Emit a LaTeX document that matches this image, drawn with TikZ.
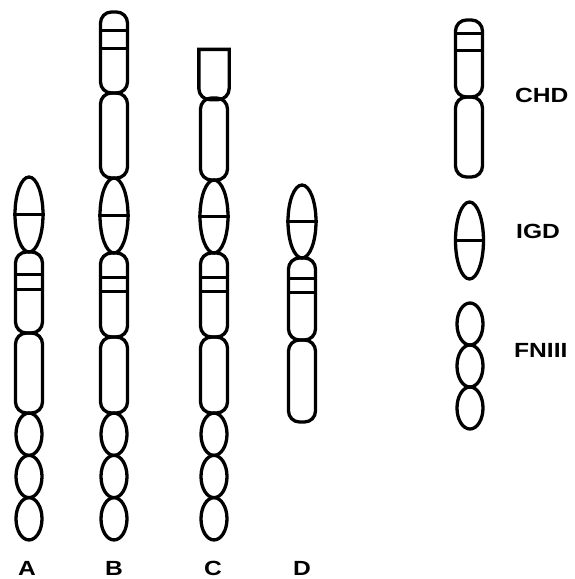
\documentclass[tikz,border=0pt]{standalone}
\usepackage{fontspec}
\newfontfamily\labfont[FakeStretch=1.2]{Liberation Sans}
\usetikzlibrary{shapes.geometric}
\tikzset{
  dom/.style={draw, line width=3.3pt},
  chdbox/.style={dom, rectangle, rounded corners=11pt, minimum width=27pt, inner sep=0pt},
  igd/.style={dom, ellipse, minimum width=28pt, inner sep=0pt},
  fn/.style={dom, ellipse, minimum width=26pt, minimum height=42.3pt, inner sep=0pt},
  band/.style={line width=2.8pt},
  lab/.style={font=\labfont\bfseries\fontsize{20.5}{20.5}\selectfont, inner sep=0pt}
}
\newcommand\dband[2]{\draw[band] ([yshift=-#2pt]#1.north west) -- ([yshift=-#2pt]#1.north east);}
\newcommand\midband[1]{\draw[band] (#1.west) -- (#1.east);}
\begin{document}
\begin{tikzpicture}[x=1pt,y=-1pt]
\useasboundingbox (0,0) rectangle (575,579);
% Column A
\node[igd, minimum height=75pt] (a1) at (29,214.5) {};
\midband{a1}
\node[chdbox, minimum height=81pt] (a2) at (29,292.5) {};
\dband{a2}{24}\dband{a2}{39}
\node[chdbox, minimum height=80pt] (a3) at (29,373) {};
\node[fn] (a4) at (29,434.2) {};
\node[fn] (a5) at (29,476.5) {};
\node[fn] (a6) at (29,518.8) {};
% Column B
\node[chdbox, minimum height=81pt] (b1) at (114,52.5) {};
\dband{b1}{20}\dband{b1}{38}
\node[chdbox, minimum height=85pt] (b2) at (114,135.5) {};
\node[igd, minimum height=75pt] (b3) at (114,215.5) {};
\midband{b3}
\node[chdbox, minimum height=84pt] (b4) at (114,295) {};
\dband{b4}{26}\dband{b4}{40}
\node[chdbox, minimum height=76pt] (b5) at (114,375) {};
\node[fn] (b6) at (114,434.2) {};
\node[fn] (b7) at (114,476.5) {};
\node[fn] (b8) at (114,518.8) {};
% Column C
\node[chdbox, draw=none, minimum height=47pt] (c1) at (214,74.5) {};
\draw[dom] (c1.east) -- (c1.north east) -- (c1.north west) -- (c1.west)
  -- ([yshift=11pt]c1.south west) arc[start angle=180, end angle=270, radius=11pt]
  -- ([xshift=-11pt]c1.south east) arc[start angle=270, end angle=360, radius=11pt] -- cycle;
\node[chdbox, minimum height=82pt] (c2) at (214,139) {};
\node[igd, minimum height=73pt] (c3) at (214,216.5) {};
\midband{c3}
\node[chdbox, minimum height=84pt] (c4) at (214,295) {};
\dband{c4}{26}\dband{c4}{40}
\node[chdbox, minimum height=76pt] (c5) at (214,375) {};
\node[fn] (c6) at (214,434.2) {};
\node[fn] (c7) at (214,476.5) {};
\node[fn] (c8) at (214,518.8) {};
% Column D
\node[igd, minimum height=73pt] (d1) at (302,221.5) {};
\midband{d1}
\node[chdbox, minimum height=82pt] (d2) at (302,299) {};
\dband{d2}{22}\dband{d2}{36}
\node[chdbox, minimum height=82pt] (d3) at (302,381) {};
% Legend
\node[chdbox, minimum height=77pt] (l1) at (469,58.5) {};
\dband{l1}{15}\dband{l1}{32}
\node[chdbox, minimum height=80pt] (l2) at (469,137) {};
\node[igd, minimum height=77pt] (l3) at (469.5,240.5) {};
\midband{l3}
\node[fn, minimum height=42pt] (l4) at (470,324) {};
\node[fn, minimum height=42pt] (l5) at (470,366) {};
\node[fn, minimum height=42pt] (l6) at (470,408) {};
% Labels
\node[lab, anchor=base] (tA) at (27,575) {A};
\node[lab, anchor=base] (tB) at (114,575) {B};
\node[lab, anchor=base] (tC) at (213,575) {C};
\node[lab, anchor=base] (tD) at (302,575) {D};
\node[lab, anchor=base west] (tchd) at (515,102) {CHD};
\node[lab, anchor=base west] (tigd) at (516,238) {IGD};
\node[lab, anchor=base west] (tfn) at (514,357) {FNIII};
\end{tikzpicture}
\end{document}
